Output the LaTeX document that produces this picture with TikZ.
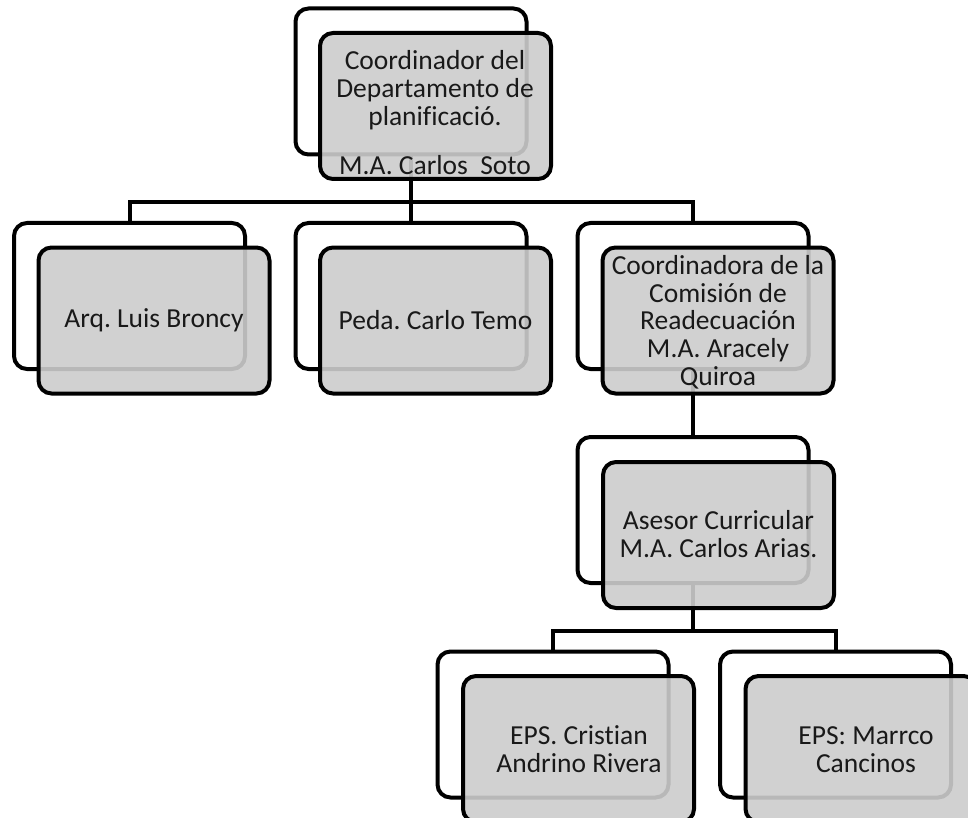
\documentclass[tikz,border=0pt]{standalone}
\usepackage{fontspec}
\setmainfont[Ligatures=NoCommon]{Carlito}
\begin{document}
\frenchspacing
\begin{tikzpicture}[x=1pt,y=-1pt,
  backbox/.style={draw=black,line width=4pt,fill=white,rounded corners=13pt,minimum width=231pt,minimum height=146pt,inner sep=0pt,outer sep=0pt},
  frontbox/.style={draw=black,line width=4pt,fill=black!20,fill opacity=0.9,draw opacity=1,rounded corners=13pt,minimum width=231pt,minimum height=146pt,inner sep=0pt,outer sep=0pt},
  conn/.style={draw=black,line width=4pt,line join=miter},
  lbl/.style={align=center,font=\fontsize{27.5}{27.7}\selectfont,text=black!90,inner sep=0pt}]
\useasboundingbox (0,0) rectangle (968,818);
\clip (0,0) rectangle (968,818);
% back boxes
\node[backbox] (b1) at (411,81.5) {};
\node[backbox] (b2) at (129.5,296) {};
\node[backbox] (b3) at (411,296) {};
\node[backbox] (b4) at (693,296) {};
\node[backbox] (b5) at (693,510) {};
\node[backbox] (b6) at (553,724.5) {};
\node[backbox] (b7) at (835.5,724.5) {};
% bars
\coordinate (bar1) at (0,202);
\coordinate (bar2) at (0,631);
% connectors
\draw[conn] (b1.south) -- (b1.south |- bar1) -| (b2.north);
\draw[conn] (b1.south |- bar1) -| (b4.north);
\draw[conn] (b1.south) -- (b3.north);
\draw[conn] (b4.south) -- (b5.north);
\draw[conn] (b5.south) -- (b5.south |- bar2) -| (b6.north);
\draw[conn] (b5.south |- bar2) -| (b7.north);
% front boxes
\node[frontbox] (f1) at (435.5,106) {};
\node[frontbox] (f2) at (154,320.5) {};
\node[frontbox] (f3) at (435.5,320.5) {};
\node[frontbox] (f4) at (718,320.5) {};
\node[frontbox] (f5) at (718.5,535) {};
\node[frontbox] (f6) at (578.5,749) {};
\node[frontbox] (f7) at (861,749) {};
% texts
\node[lbl] (t1) at (435,113) {Coordinador del\\Departamento de\\planificació.\\[22pt]M.A. Carlos\hspace{0.45em}Soto};
\node[lbl] (t2) at (154,320) {Arq. Luis Broncy};
\node[lbl] (t3) at (435.5,320) {Peda. Carlo Temo};
\node[lbl] (t4) at (718,322) {Coordinadora de la\\Comisión de\\Readecuación\\M.A. Aracely\\Quiroa};
\node[lbl] (t5) at (718.5,534) {Asesor Curricular\\M.A. Carlos Arias.};
\node[lbl] (t6) at (579,749) {EPS. Cristian\\Andrino Rivera};
\node[lbl] (t7) at (866,750) {EPS: Marrco\\Cancinos};
\end{tikzpicture}
\end{document}
